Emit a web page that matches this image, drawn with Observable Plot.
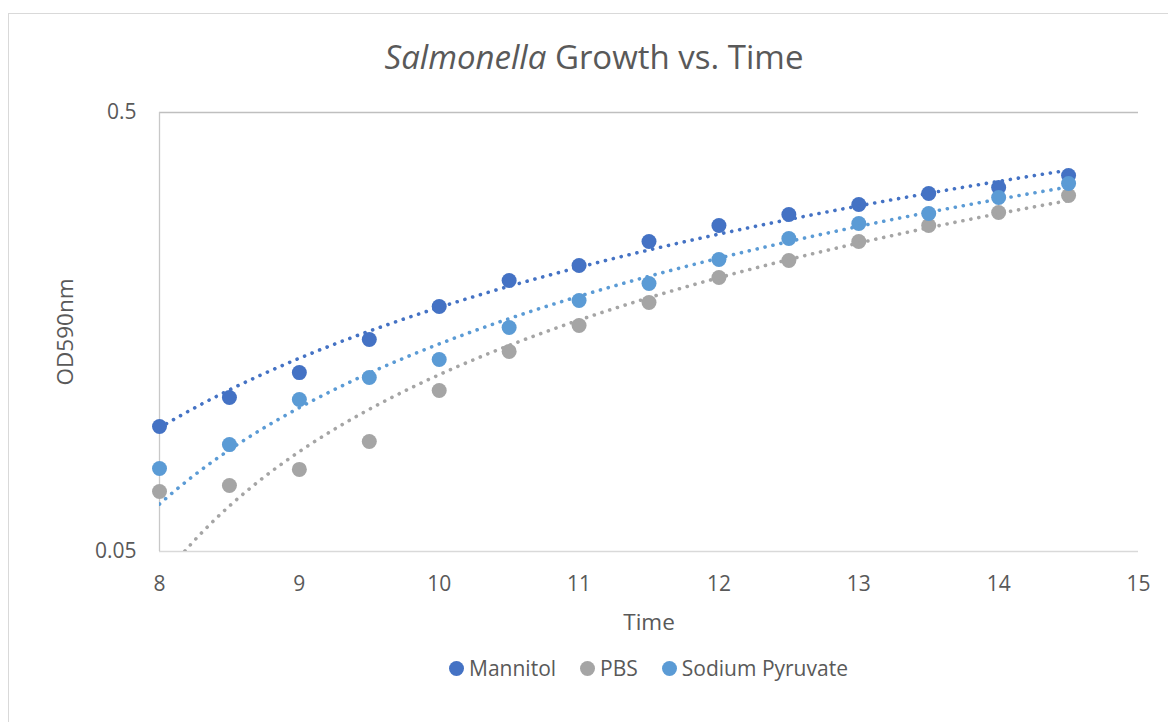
<!DOCTYPE html>
<html>
<head>
<meta charset="utf-8">
<script src="https://cdn.jsdelivr.net/npm/d3@7"></script>
<script src="https://cdn.jsdelivr.net/npm/@observablehq/plot@0.6"></script>
<style>
  html, body { margin: 0; padding: 0; background: #fff; overflow: hidden; }
  #wrap { position: relative; width: 1168px; height: 722px; font-family: "Open Sans", sans-serif; color: #595959; }
  #border { position: absolute; left: 8px; top: 13px; width: 1300px; height: 900px; border: 1px solid #D9D9D9; box-sizing: border-box; }
  #title { position: absolute; left: 594px; top: 36px; transform: translateX(-50%); font-size: 33px; line-height: 42px; white-space: nowrap; }
  #chart { position: absolute; left: 0; top: 0; }
  #legend { position: absolute; left: 159px; width: 979px; top: 653px; height: 30px; display: flex; justify-content: center; align-items: center; font-size: 21px; }
  .item { display: flex; align-items: center; margin: 0 12px; }
  .sw { width: 15px; height: 15px; border-radius: 50%; margin-right: 5px; }
</style>
</head>
<body>
<div id="wrap">
  <div id="border"></div>
  <div id="title"><i>Salmonella</i> Growth vs. Time</div>
  <div id="chart"></div>
  <div id="legend"></div>
</div>
<script>
const times = [8, 8.5, 9, 9.5, 10, 10.5, 11, 11.5, 12, 12.5, 13, 13.5, 14, 14.5];
const seriesNames = ["Mannitol", "PBS", "Sodium Pyruvate"];
const seriesColors = ["#4472C4", "#A5A5A5", "#5B9BD5"];
const mannitol = [0.0963, 0.1121, 0.1278, 0.152, 0.1807, 0.2072, 0.2241, 0.2541, 0.2765, 0.2928, 0.3086, 0.327, 0.3375, 0.3593];
const pbs = [0.0685, 0.0707, 0.0769, 0.089, 0.1163, 0.1428, 0.1636, 0.1846, 0.2104, 0.2301, 0.2541, 0.2765, 0.2959, 0.3236];
const sodiumPyruvate = [0.0773, 0.0876, 0.111, 0.1245, 0.1369, 0.1619, 0.1865, 0.2039, 0.2313, 0.2582, 0.2794, 0.2943, 0.3202, 0.3446];
const xTicks = [8, 9, 10, 11, 12, 13, 14, 15];
const yTicks = [0.05, 0.5];
const yTickLabels = ["0.05", "0.5"];

const seriesValues = [mannitol, pbs, sodiumPyruvate];
const points = [];
seriesNames.forEach((s, k) => times.forEach((t, i) => points.push({series: s, time: t, od: seriesValues[k][i]})));

// Linear least-squares trendlines (as in the spreadsheet), drawn on the log axis
const trend = [];
seriesNames.forEach((s, k) => {
  const ys = seriesValues[k];
  const mx = d3.mean(times), my = d3.mean(ys);
  let sxy = 0, sxx = 0;
  times.forEach((t, i) => { sxy += (t - mx) * (ys[i] - my); sxx += (t - mx) * (t - mx); });
  const b = sxy / sxx, a = my - b * mx;
  const [t0, t1] = d3.extent(times);
  const xs = d3.range(t0, t1, 0.02).concat([t1]);
  xs.forEach(t => trend.push({series: s, time: t, od: a + b * t}));
});

const yTickTable = yTicks.map((v, i) => ({v, label: yTickLabels[i]}));

const chart = Plot.plot({
  width: 1168,
  height: 722,
  marginLeft: 159,
  marginRight: 30,
  marginTop: 112,
  marginBottom: 171,
  style: {fontSize: "21px", fontFamily: "Open Sans, sans-serif", color: "#595959", background: "transparent"},
  x: {domain: [8, 15], axis: null},
  y: {type: "log", domain: [0.05, 0.5], axis: null},
  color: {domain: seriesNames, range: seriesColors},
  marks: [
    Plot.ruleY([yTicks[1]], {stroke: "#BFBFBF", strokeWidth: 1.3}),
    Plot.ruleY([yTicks[0]], {stroke: "#D9D9D9", strokeWidth: 1.3}),
    Plot.ruleX([xTicks[0]], {stroke: "#C8C8C8", strokeWidth: 1.3}),
    Plot.axisX({ticks: xTicks, tickSize: 0, tickPadding: 25, label: null, tickFormat: d => String(d)}),
    Plot.text(yTickTable, {y: "v", text: "label", frameAnchor: "left", dx: -23, textAnchor: "end", lineAnchor: "middle", fill: "#595959", fontSize: 21}),
    Plot.text(["Time"], {frameAnchor: "bottom", dy: 71, lineAnchor: "middle", textAnchor: "middle", fontSize: 22.5, fill: "#595959"}),
    Plot.text(["OD590nm"], {frameAnchor: "left", dx: -94, rotate: -90, textAnchor: "middle", lineAnchor: "middle", fontSize: 22.5, fill: "#595959"}),
    Plot.dot(points, {x: "time", y: "od", fill: "series", r: 7.5}),
    Plot.line(trend, {x: "time", y: "od", z: "series", stroke: "series", strokeWidth: 3.6, strokeDasharray: "0.1 8", strokeLinecap: "round", clip: true})
  ]
});
document.getElementById("chart").appendChild(chart);

const legend = document.getElementById("legend");
seriesNames.forEach((s, k) => {
  const it = document.createElement("div");
  it.className = "item";
  const sw = document.createElement("span");
  sw.className = "sw";
  sw.style.background = seriesColors[k];
  const tx = document.createElement("span");
  tx.textContent = s;
  it.appendChild(sw); it.appendChild(tx);
  legend.appendChild(it);
});
</script>
</body>
</html>
